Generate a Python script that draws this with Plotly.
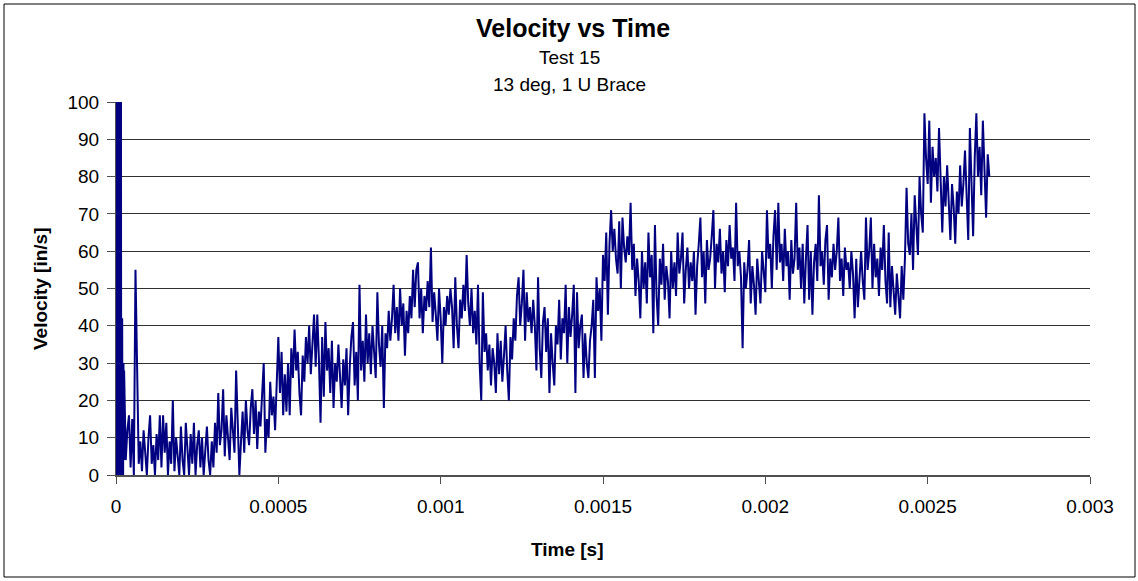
import plotly.graph_objects as go

# ---------------- data ----------------
# startup transient, sampled every 1 microsecond (0 .. 24 us)
startup_interval_s = 1e-6
velocity_startup = [0, 150, 0, 150, 5, 150, 0, 150, 0, 150, 2, 150, 0, 150, 0, 150,
                    0, 42, 0, 42, 3, 30, 0, 30, 4]

# main record, sampled every 5 microseconds starting at 25 us
main_start_s = 25e-6
main_interval_s = 5e-6
velocity_main = [
    28, 4, 12, 16, 2, 15, 0, 55, 26, 3, 9, 1, 12, 5, 0, 10, 16, 3, 8, 0,
    11, 4, 16, 2, 16, 6, 14, 0, 9, 3, 20, 1, 10, 5, 0, 13, 4, 0, 14, 7,
    0, 11, 3, 14, 0, 8, 12, 2, 10, 0, 6, 13, 4, 0, 9, 2, 14, 6, 22, 8,
    12, 23, 5, 16, 10, 4, 18, 11, 6, 28, 14, 0, 9, 17, 6, 20, 12, 8, 18, 23,
    11, 20, 7, 17, 13, 24, 30, 6, 15, 10, 25, 16, 21, 12, 28, 37, 22, 33, 16, 27,
    17, 30, 16, 34, 26, 39, 28, 33, 22, 16, 32, 25, 37, 30, 40, 27, 35, 43, 29, 43,
    31, 14, 37, 21, 41, 28, 34, 22, 36, 18, 30, 25, 35, 27, 18, 31, 24, 34, 16, 29,
    37, 41, 24, 33, 20, 51, 28, 36, 25, 43, 30, 38, 27, 40, 33, 26, 49, 35, 29, 40,
    18, 38, 34, 44, 36, 42, 51, 38, 45, 36, 50, 40, 46, 32, 44, 38, 48, 42, 55, 45,
    55, 57, 42, 50, 38, 48, 44, 52, 45, 61, 41, 49, 43, 36, 50, 42, 30, 45, 40, 48,
    43, 50, 45, 34, 53, 40, 34, 47, 42, 51, 44, 59, 46, 40, 50, 38, 44, 35, 51, 30,
    20, 49, 33, 38, 28, 35, 24, 34, 30, 22, 38, 27, 36, 25, 32, 40, 28, 20, 37, 31,
    42, 36, 48, 53, 40, 46, 55, 36, 49, 41, 45, 38, 47, 40, 28, 53, 34, 26, 41, 45,
    33, 42, 22, 38, 30, 24, 40, 35, 47, 31, 42, 38, 51, 30, 45, 37, 43, 51, 22, 49,
    34, 40, 43, 26, 38, 30, 26, 36, 40, 47, 26, 53, 44, 50, 36, 59, 52, 65, 43, 62,
    71, 60, 66, 58, 54, 68, 50, 69, 61, 57, 64, 59, 73, 55, 62, 48, 58, 52, 42, 60,
    50, 57, 46, 65, 53, 59, 38, 67, 48, 40, 58, 51, 62, 47, 56, 52, 42, 60, 50, 57,
    48, 65, 54, 58, 65, 46, 55, 61, 50, 57, 52, 60, 43, 56, 62, 69, 53, 60, 46, 63,
    55, 58, 64, 71, 50, 62, 57, 66, 54, 60, 49, 63, 56, 67, 58, 61, 52, 73, 56, 60,
    53, 34, 57, 50, 55, 63, 46, 56, 51, 43, 58, 52, 46, 60, 54, 49, 71, 58, 62, 50,
    64, 71, 55, 73, 57, 62, 52, 66, 56, 60, 47, 63, 54, 58, 73, 55, 61, 50, 62, 46,
    58, 67, 47, 60, 43, 57, 62, 52, 75, 56, 60, 51, 63, 67, 47, 58, 53, 62, 55, 60,
    69, 52, 58, 48, 61, 55, 57, 50, 60, 54, 42, 58, 45, 53, 60, 52, 47, 69, 55, 60,
    69, 50, 62, 53, 58, 48, 61, 55, 67, 52, 46, 65, 45, 56, 50, 43, 54, 49, 42, 56,
    47, 58, 77, 62, 59, 70, 55, 75, 66, 59, 80, 70, 65, 97, 85, 78, 95, 73, 88, 80,
    85, 76, 93, 79, 65, 80, 72, 83, 70, 63, 78, 72, 62, 76, 70, 83, 72, 78, 87, 74,
    63, 93, 78, 64, 85, 97, 80, 88, 75, 95, 82, 69, 86, 80,
]

x_tick_values = [0, 0.0005, 0.001, 0.0015, 0.002, 0.0025, 0.003]
x_tick_labels = ["0", "0.0005", "0.001", "0.0015", "0.002", "0.0025", "0.003"]
y_tick_values = [0, 10, 20, 30, 40, 50, 60, 70, 80, 90, 100]

title_text = "Velocity vs Time"
subtitle_lines = ["Test 15", "13 deg, 1 U Brace"]
x_title = "Time [s]"
y_title = "Velocity [in/s]"

# sample grid
time_s = [i * startup_interval_s for i in range(len(velocity_startup))] + \
         [main_start_s + i * main_interval_s for i in range(len(velocity_main))]
velocity = velocity_startup + velocity_main

# ---------------- figure ----------------
W, H = 1138, 581
L, R, T, B = 116, 48, 102, 106
pw, ph = W - L - R, H - T - B


def px_x(x):
    return (x - L) / pw


def px_y(y):
    return (H - B - y) / ph


font = "Liberation Sans, Arial, sans-serif"

fig = go.Figure()
fig.add_trace(go.Scatter(
    x=time_s, y=velocity, mode="lines",
    line=dict(color="#000080", width=2),
    showlegend=False, hoverinfo="skip",
))

fig.update_layout(
    width=W, height=H,
    margin=dict(l=L, r=R, t=T, b=B),
    paper_bgcolor="white", plot_bgcolor="white",
    font=dict(family=font, size=19, color="black"),
    xaxis=dict(
        range=[0, 0.003], tickvals=x_tick_values, ticktext=x_tick_labels,
        showgrid=False, zeroline=False,
        showline=True, linecolor="#505050", linewidth=2,
        ticks="outside", ticklen=7, tickcolor="#505050", tickwidth=1,
        ticklabelstandoff=6,
        tickfont=dict(family=font, size=19, color="black"),
    ),
    yaxis=dict(
        range=[0, 100], tickvals=y_tick_values,
        showgrid=True, gridcolor="#303030", gridwidth=1, zeroline=False,
        showline=True, linecolor="#505050", linewidth=1,
        ticks="outside", ticklen=8, tickcolor="#505050", tickwidth=1,
        ticklabelstandoff=4,
        tickfont=dict(family=font, size=19, color="black"),
    ),
    shapes=[dict(
        type="rect", xref="paper", yref="paper",
        x0=px_x(4), x1=px_x(W - 3), y0=px_y(H - 4), y1=px_y(4),
        line=dict(color="black", width=1), fillcolor="rgba(0,0,0,0)", layer="below",
    )],
    annotations=[
        dict(text="<b>" + title_text + "</b>", xref="paper", yref="paper",
             x=px_x(W / 2 + 4), y=px_y(28), xanchor="center", yanchor="middle",
             showarrow=False, font=dict(family=font, size=25, color="black")),
        dict(text=subtitle_lines[0], xref="paper", yref="paper",
             x=px_x(W / 2), y=px_y(58), xanchor="center", yanchor="middle",
             showarrow=False, font=dict(family=font, size=19, color="black")),
        dict(text=subtitle_lines[1], xref="paper", yref="paper",
             x=px_x(W / 2), y=px_y(85), xanchor="center", yanchor="middle",
             showarrow=False, font=dict(family=font, size=19, color="black")),
        dict(text="<b>" + x_title + "</b>", xref="paper", yref="paper",
             x=px_x(567), y=px_y(549), xanchor="center", yanchor="middle",
             showarrow=False, font=dict(family=font, size=19, color="black")),
        dict(text="<b>" + y_title + "</b>", xref="paper", yref="paper",
             x=px_x(40), y=px_y(289), xanchor="center", yanchor="middle",
             textangle=-90,
             showarrow=False, font=dict(family=font, size=19, color="black")),
    ],
)

fig.write_html("out.html", post_script="document.body.style.margin='0';",
               config={"displayModeBar": False})
